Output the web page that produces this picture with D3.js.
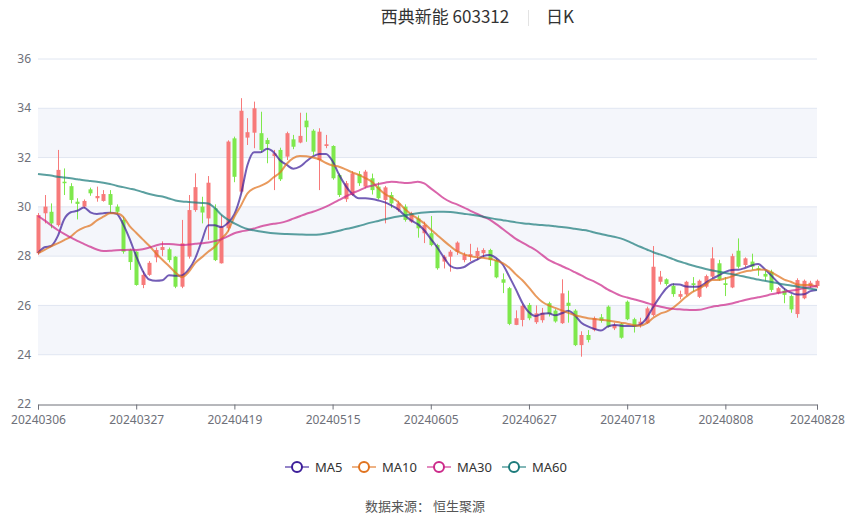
<!DOCTYPE html>
<html><head><meta charset="utf-8">
<script src="https://cdn.jsdelivr.net/npm/d3@7"></script>
<style>
html,body{margin:0;padding:0;background:#fff;}
svg{display:block;font-family:"Noto Sans CJK SC","Noto Sans",sans-serif;}
</style></head>
<body><svg id="chart" width="850" height="517"></svg>
<script>
const dates = ["20240306","20240307","20240308","20240311","20240312","20240313","20240314","20240315","20240318","20240319","20240320","20240321","20240322","20240325","20240326","20240327","20240328","20240329",
"20240401","20240402","20240403","20240408","20240409","20240410","20240411","20240412","20240415","20240416","20240417","20240418","20240419","20240422","20240423","20240424","20240425","20240426","20240429","20240430",
"20240506","20240507","20240508","20240509","20240510","20240513","20240514","20240515","20240516","20240517","20240520","20240521","20240522","20240523","20240524","20240527","20240528","20240529","20240530","20240531",
"20240603","20240604","20240605","20240606","20240607","20240611","20240612","20240613","20240614","20240617","20240618","20240619","20240620","20240621","20240624","20240625","20240626","20240627","20240628",
"20240701","20240702","20240703","20240704","20240705","20240708","20240709","20240710","20240711","20240712","20240715","20240716","20240717","20240718","20240719","20240722","20240723","20240724","20240725","20240726","20240729","20240730","20240731",
"20240801","20240802","20240805","20240806","20240807","20240808","20240809","20240812","20240813","20240814","20240815","20240816","20240819","20240820","20240821","20240822","20240823","20240826","20240827","20240828"];

const openV = [28.12,29.74,29.80,29.26,31.02,30.84,30.21,30.01,30.71,30.35,30.24,30.52,30.01,29.47,28.25,28.18,26.83,27.24,27.95,28.25,
28.28,27.98,26.76,27.98,29.87,30.01,29.53,29.94,27.71,29.13,32.78,30.62,32.81,33.01,32.99,32.71,32.06,32.31,32.04,32.74,
32.61,33.50,33.09,31.90,32.47,32.47,31.29,30.31,30.48,31.33,30.82,31.16,30.82,30.28,30.48,29.87,30.01,29.40,29.53,28.93,
28.93,28.45,27.78,27.98,28.18,27.84,27.98,28.00,28.12,28.25,27.84,27.06,26.70,25.21,25.41,26.02,25.32,25.40,26.09,25.79,
25.28,26.11,25.79,24.39,24.80,25.00,25.52,25.95,25.07,25.25,26.15,25.44,25.23,25.28,25.61,26.96,27.06,26.79,26.35,26.45,
26.90,26.35,26.76,27.17,27.71,26.90,26.73,28.22,27.64,27.78,27.51,27.28,27.37,26.49,26.60,26.38,25.65,26.29,26.79,26.79];
const closeV = [29.67,30.01,29.33,31.50,30.96,30.28,30.12,30.24,30.55,30.44,30.52,30.08,29.80,28.18,27.76,26.83,27.24,27.73,28.25,28.37,
27.84,26.76,28.52,29.87,30.80,29.77,30.98,27.84,29.20,32.65,31.22,33.90,33.03,34.00,32.31,32.55,32.17,31.12,32.99,32.44,
32.88,33.23,32.24,33.05,32.54,31.16,30.48,30.96,31.36,30.96,31.43,30.68,30.35,30.79,30.14,30.14,29.47,29.74,29.13,29.26,
28.45,27.51,27.98,28.18,28.55,28.05,28.08,28.21,28.25,27.84,27.14,26.92,25.25,25.48,25.98,25.48,25.68,25.70,25.65,25.35,
26.49,25.98,24.39,24.80,24.60,25.48,25.38,25.14,25.21,24.69,25.44,25.14,25.34,25.88,27.57,27.17,26.87,26.46,26.46,26.96,
26.83,27.00,27.19,27.91,27.06,26.83,28.00,27.57,27.91,27.57,27.44,27.17,26.63,26.70,26.43,25.84,27.03,27.00,26.92,27.00];
const lowV = [28.05,29.33,29.13,29.20,30.48,30.14,29.49,29.95,30.45,30.21,30.21,29.74,29.70,28.10,27.44,26.80,26.70,27.20,27.75,28.00,
27.75,26.70,26.70,27.90,29.80,29.33,28.66,27.80,27.70,29.00,31.00,30.55,32.51,32.38,32.20,31.77,30.68,31.05,31.90,32.34,
32.58,32.64,32.10,30.68,32.38,31.10,30.40,30.20,30.45,30.85,30.75,30.50,30.30,29.33,29.95,29.80,29.40,29.35,28.75,28.53,
28.40,27.45,27.50,27.37,28.05,27.75,27.80,27.85,27.95,27.60,27.10,26.50,25.20,25.20,25.15,25.40,25.25,25.30,25.55,25.30,
25.25,25.30,24.35,23.92,24.50,24.95,25.30,25.10,25.00,24.65,25.40,24.90,25.10,25.25,25.55,26.85,26.80,26.35,26.25,26.40,
26.56,26.30,26.70,27.10,27.00,26.38,26.70,27.50,27.55,27.45,27.20,27.00,26.55,26.45,26.09,25.70,25.50,26.25,26.70,26.70];
const highV = [29.75,30.48,30.14,32.31,31.56,30.96,30.35,30.30,30.78,30.82,30.68,30.68,30.10,29.60,28.30,28.20,27.40,27.80,28.35,28.60,
28.35,28.00,29.47,30.48,31.36,30.41,31.25,30.10,29.67,32.70,32.85,34.41,33.60,34.27,33.86,32.80,32.31,32.40,33.05,32.92,
33.82,33.82,33.15,33.19,32.92,32.50,31.35,31.05,31.45,31.45,31.50,31.35,31.00,30.85,30.60,30.25,30.10,29.80,29.65,29.40,
29.63,28.50,28.05,28.25,28.60,28.15,28.50,28.35,28.32,28.30,27.90,27.30,26.75,25.80,26.05,26.10,26.00,25.90,26.15,25.85,
27.06,26.60,25.85,24.95,25.00,25.55,25.65,26.00,25.30,25.30,26.20,25.50,25.50,25.95,28.41,27.40,27.10,26.90,26.60,27.00,
27.15,27.05,27.25,28.36,27.85,27.15,28.10,28.72,27.95,28.10,27.60,27.40,27.45,26.75,26.70,26.45,27.10,27.05,27.00,27.05];

const ma5 = [28.12,28.36,28.41,28.80,29.50,29.78,29.84,29.97,29.78,29.71,29.74,29.76,29.72,29.30,28.70,28.00,27.40,27.05,27.00,27.02,
27.22,27.20,27.22,27.45,27.90,28.60,29.25,29.25,29.18,29.35,29.70,30.50,31.70,32.22,32.22,32.36,32.22,31.88,31.70,31.55,
31.63,31.85,32.05,32.15,32.15,31.85,31.30,30.85,30.52,30.35,30.35,30.32,30.26,30.18,30.05,29.90,29.66,29.45,29.30,29.05,
28.70,28.35,27.95,27.60,27.51,27.55,27.72,27.85,28.00,28.05,27.92,27.66,27.17,26.65,26.10,25.72,25.57,25.66,25.68,25.60,
25.68,25.78,25.60,25.30,25.15,25.05,24.98,25.14,25.21,25.18,25.17,25.17,25.22,25.50,25.95,26.35,26.70,26.86,26.85,26.77,
26.76,26.76,26.92,27.08,27.22,27.36,27.44,27.45,27.52,27.62,27.68,27.48,27.22,26.94,26.68,26.52,26.44,26.45,26.58,26.63];
const ma10 = [28.12,28.25,28.40,28.52,28.65,28.79,29.02,29.16,29.25,29.45,29.60,29.74,29.74,29.60,29.22,28.95,28.68,28.42,28.12,27.85,
27.60,27.34,27.15,27.35,27.72,27.95,28.18,28.38,28.70,29.00,29.60,30.05,30.55,30.75,30.85,30.98,31.20,31.40,31.75,31.98,
32.06,32.05,32.00,31.92,31.78,31.68,31.63,31.52,31.40,31.30,31.17,31.02,30.75,30.52,30.38,30.20,29.92,29.70,29.52,29.33,
29.08,28.85,28.62,28.40,28.20,28.08,28.00,27.96,27.93,27.89,27.82,27.72,27.53,27.26,27.02,26.72,26.40,26.15,26.00,25.90,
25.80,25.70,25.60,25.54,25.48,25.45,25.42,25.39,25.35,25.30,25.26,25.20,25.18,25.28,25.50,25.66,25.75,25.90,26.12,26.35,
26.55,26.68,26.85,27.03,27.03,27.10,27.18,27.30,27.38,27.42,27.46,27.45,27.35,27.20,27.05,26.96,26.85,26.83,26.83,26.76];
const ma30 = [29.63,29.45,29.25,29.06,28.90,28.76,28.62,28.50,28.38,28.27,28.21,28.22,28.24,28.25,28.26,28.25,28.28,28.35,28.43,28.49,
28.49,28.47,28.45,28.47,28.50,28.52,28.55,28.61,28.68,28.80,28.93,29.00,29.05,29.12,29.20,29.26,29.31,29.35,29.42,29.52,
29.62,29.72,29.80,29.90,30.01,30.14,30.28,30.42,30.55,30.66,30.78,30.86,30.93,30.98,31.02,31.00,30.97,30.98,31.02,30.95,
30.75,30.55,30.35,30.20,30.10,29.98,29.85,29.72,29.60,29.48,29.30,29.10,28.90,28.70,28.55,28.40,28.25,28.05,27.85,27.72,
27.60,27.48,27.35,27.22,27.08,26.97,26.82,26.65,26.52,26.40,26.32,26.25,26.18,26.10,26.02,25.96,25.90,25.86,25.84,25.82,
25.81,25.82,25.88,25.95,25.99,26.03,26.08,26.15,26.22,26.28,26.33,26.38,26.45,26.50,26.55,26.60,26.64,26.70,26.75,26.79];
const ma60 = [31.33,31.30,31.27,31.22,31.19,31.16,31.12,31.08,31.05,31.02,30.98,30.93,30.86,30.80,30.74,30.68,30.60,30.52,30.46,30.42,
30.34,30.26,30.22,30.20,30.18,30.16,30.14,29.95,29.68,29.48,29.33,29.20,29.10,29.05,29.00,28.96,28.93,28.91,28.90,28.89,
28.88,28.87,28.87,28.88,28.92,28.97,29.03,29.10,29.15,29.22,29.30,29.37,29.43,29.50,29.56,29.61,29.65,29.70,29.74,29.77,
29.79,29.80,29.80,29.79,29.76,29.72,29.69,29.65,29.60,29.55,29.50,29.46,29.42,29.37,29.33,29.31,29.28,29.26,29.24,29.21,
29.18,29.15,29.11,29.07,29.03,28.96,28.90,28.84,28.79,28.72,28.62,28.50,28.38,28.27,28.16,28.07,27.98,27.88,27.78,27.70,
27.62,27.55,27.48,27.42,27.37,27.32,27.27,27.22,27.16,27.10,27.05,27.00,26.95,26.90,26.85,26.81,26.76,26.72,26.68,26.64];

const xLabels = ["20240306","20240327","20240419","20240515","20240605","20240627","20240718","20240808","20240828"];
const yTicks = [22,24,26,28,30,32,34,36];
const seriesNames = ["MA5","MA10","MA30","MA60"];
const seriesColors = ["#3d1f9a","#e0731f","#cc2a8a","#1c7b7b"];

const svg = d3.select("#chart");
const L = 38, R = 817, T = 59, B = 404;
const x = d3.scalePoint().domain(dates).range([L, R]);
const y = d3.scaleLinear().domain([22, 36]).range([B, T]);

// alternating split areas
for (let k = 0; k < yTicks.length - 1; k++) {
  if (k % 2 === 1) {
    svg.append("rect").attr("x", L).attr("width", R - L)
      .attr("y", y(yTicks[k + 1])).attr("height", y(yTicks[k]) - y(yTicks[k + 1]))
      .attr("fill", "#f4f6fb");
  }
}
// grid
svg.append("g").selectAll("line").data(yTicks.slice(1)).join("line")
  .attr("x1", L).attr("x2", R).attr("y1", d => y(d)).attr("y2", d => y(d))
  .attr("stroke", "#e0e6f1").attr("stroke-width", 1);

// y labels
svg.append("g").selectAll("text").data(yTicks).join("text")
  .attr("x", 31).attr("y", d => y(d)).attr("dy", "0.35em")
  .attr("text-anchor", "end").attr("font-size", 12).attr("fill", "#6e7079")
  .attr("font-family", "'Noto Sans','DejaVu Sans',sans-serif")
  .text(d => d);

// x axis
const xAxis = d3.axisBottom(x).tickValues(xLabels).tickSize(5).tickPadding(6);
const gx = svg.append("g").attr("transform", `translate(0,${B + 0.5})`).call(xAxis);
gx.select(".domain").attr("stroke", "#6e7079");
gx.selectAll(".tick line").attr("stroke", "#6e7079");
gx.selectAll(".tick text").attr("font-size", 12).attr("fill", "#6e7079")
  .attr("font-family", "'Noto Sans','DejaVu Sans',sans-serif");

// candles
const up = "#f77a7a", down = "#7ee84c";
const bw = 4;
const cg = svg.append("g");
dates.forEach((d, i) => {
  const c = closeV[i] >= openV[i] ? up : down;
  const cx = Math.round(x(d)) + 0.5;
  cg.append("line").attr("x1", cx).attr("x2", cx)
    .attr("y1", y(highV[i])).attr("y2", y(lowV[i]))
    .attr("stroke", c).attr("stroke-width", 1);
  const top = y(Math.max(openV[i], closeV[i]));
  const h = Math.max(1, Math.abs(y(openV[i]) - y(closeV[i])));
  cg.append("rect").attr("x", cx - bw / 2).attr("y", top)
    .attr("width", bw).attr("height", h).attr("fill", c);
});

// MA lines
const maData = [ma5, ma10, ma30, ma60];
const line = d3.line().x((v, i) => x(dates[i])).y(v => y(v)).curve(d3.curveMonotoneX);
maData.forEach((arr, k) => {
  svg.append("path").attr("d", line(arr)).attr("fill", "none")
    .attr("stroke", seriesColors[k]).attr("stroke-opacity", 0.72)
    .attr("stroke-width", 2);
});

// title
svg.append("text").attr("x", 445).attr("y", 23).attr("text-anchor", "middle")
  .attr("font-size", 17).attr("fill", "#333").text("西典新能 603312");
svg.append("line").attr("x1", 528.5).attr("x2", 528.5).attr("y1", 10).attr("y2", 26)
  .attr("stroke", "#e3e3e3");
svg.append("text").attr("x", 560).attr("y", 23).attr("text-anchor", "middle")
  .attr("font-size", 17).attr("fill", "#333").text("日K");

// legend
const legX = [285, 352, 427, 502];
seriesNames.forEach((n, k) => {
  const g = svg.append("g").attr("transform", `translate(${legX[k]},467)`);
  g.append("line").attr("x1", 0).attr("x2", 24).attr("y1", 0).attr("y2", 0)
    .attr("stroke", seriesColors[k]).attr("stroke-opacity", 0.55).attr("stroke-width", 2);
  g.append("circle").attr("cx", 12).attr("cy", 0).attr("r", 5)
    .attr("fill", "#fff").attr("stroke", seriesColors[k]).attr("stroke-width", 2);
  g.append("text").attr("x", 30).attr("y", 0).attr("dy", "0.35em")
    .attr("font-size", 13).attr("fill", "#333")
    .attr("font-family", "'Noto Sans','DejaVu Sans',sans-serif").text(n);
});

// source
svg.append("text").attr("x", 425).attr("y", 511).attr("text-anchor", "middle")
  .attr("font-size", 13).attr("fill", "#555").text("数据来源：  恒生聚源");
</script></body></html>
